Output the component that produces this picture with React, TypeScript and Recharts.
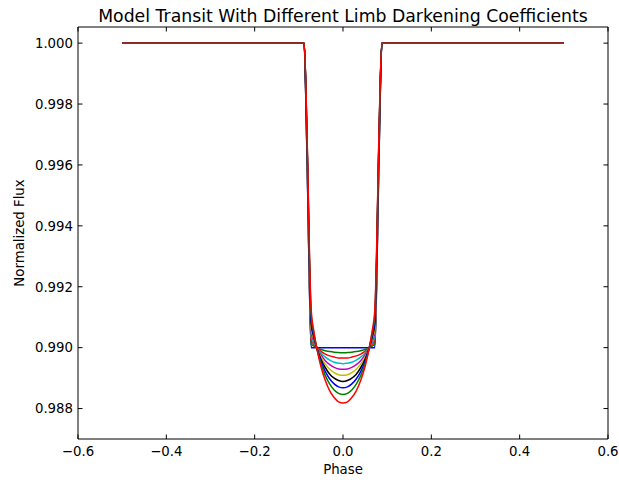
import { LineChart, Line, XAxis, YAxis, ReferenceArea } from "recharts";

// orbital phase samples (shared by every curve)
const PHASE = [
  -0.5, -0.088, -0.084, -0.08, -0.076, -0.072, -0.066, -0.06, -0.05, -0.04, -0.03, -0.02, -0.01,
  0,
  0.01, 0.02, 0.03, 0.04, 0.05, 0.06, 0.066, 0.072, 0.076, 0.08, 0.084, 0.088, 0.5,
];

// normalized flux, one list per limb darkening coefficient (u = 0 ... 0.45)
const FLUX_U000 = [
  1, 1, 0.99805, 0.9951, 0.99196, 0.99, 0.99, 0.99, 0.99, 0.99, 0.99, 0.99, 0.99,
  0.99,
  0.99, 0.99, 0.99, 0.99, 0.99, 0.99, 0.99, 0.99, 0.99196, 0.9951, 0.99805, 1, 1,
];
const FLUX_U005 = [
  1, 1, 0.9981, 0.9952, 0.99207, 0.99012, 0.99005, 0.99, 0.98994, 0.9899, 0.98987, 0.98985, 0.98984,
  0.98983,
  0.98984, 0.98985, 0.98987, 0.9899, 0.98994, 0.99, 0.99005, 0.99012, 0.99207, 0.9952, 0.9981, 1, 1,
];
const FLUX_U010 = [
  1, 1, 0.99815, 0.9953, 0.99218, 0.99024, 0.99011, 0.99001, 0.98988, 0.98979, 0.98973, 0.98969, 0.98966,
  0.98966,
  0.98966, 0.98969, 0.98973, 0.98979, 0.98988, 0.99001, 0.99011, 0.99024, 0.99218, 0.9953, 0.99815, 1, 1,
];
const FLUX_U015 = [
  1, 1, 0.99821, 0.9954, 0.9923, 0.99036, 0.99016, 0.99001, 0.98982, 0.98969, 0.98959, 0.98952, 0.98949,
  0.98947,
  0.98949, 0.98952, 0.98959, 0.98969, 0.98982, 0.99001, 0.99016, 0.99036, 0.9923, 0.9954, 0.99821, 1, 1,
];
const FLUX_U020 = [
  1, 1, 0.99827, 0.99551, 0.99243, 0.9905, 0.99022, 0.99001, 0.98976, 0.98957, 0.98944, 0.98935, 0.9893,
  0.98929,
  0.9893, 0.98935, 0.98944, 0.98957, 0.98976, 0.99001, 0.99022, 0.9905, 0.99243, 0.99551, 0.99827, 1, 1,
];
const FLUX_U025 = [
  1, 1, 0.99833, 0.99562, 0.99256, 0.99063, 0.99028, 0.99001, 0.98969, 0.98946, 0.98929, 0.98918, 0.98911,
  0.98909,
  0.98911, 0.98918, 0.98929, 0.98946, 0.98969, 0.99001, 0.99028, 0.99063, 0.99256, 0.99562, 0.99833, 1, 1,
];
const FLUX_U030 = [
  1, 1, 0.99839, 0.99573, 0.99269, 0.99077, 0.99034, 0.99002, 0.98962, 0.98934, 0.98913, 0.989, 0.98892,
  0.98889,
  0.98892, 0.989, 0.98913, 0.98934, 0.98962, 0.99002, 0.99034, 0.99077, 0.99269, 0.99573, 0.99839, 1, 1,
];
const FLUX_U035 = [
  1, 1, 0.99845, 0.99585, 0.99283, 0.99091, 0.9904, 0.99002, 0.98955, 0.98921, 0.98897, 0.98881, 0.98871,
  0.98868,
  0.98871, 0.98881, 0.98897, 0.98921, 0.98955, 0.99002, 0.9904, 0.99091, 0.99283, 0.99585, 0.99845, 1, 1,
];
const FLUX_U040 = [
  1, 1, 0.99852, 0.99597, 0.99298, 0.99107, 0.99047, 0.99002, 0.98947, 0.98908, 0.9888, 0.98861, 0.9885,
  0.98846,
  0.9885, 0.98861, 0.9888, 0.98908, 0.98947, 0.99002, 0.99047, 0.99107, 0.99298, 0.99597, 0.99852, 1, 1,
];
const FLUX_U045 = [
  1, 1, 0.99859, 0.9961, 0.99313, 0.99122, 0.99054, 0.99003, 0.98938, 0.98892, 0.98858, 0.98836, 0.98822,
  0.98818,
  0.98822, 0.98836, 0.98858, 0.98892, 0.98938, 0.99003, 0.99054, 0.99122, 0.99313, 0.9961, 0.99859, 1, 1,
];

const SERIES = [
  FLUX_U000, FLUX_U005, FLUX_U010, FLUX_U015, FLUX_U020,
  FLUX_U025, FLUX_U030, FLUX_U035, FLUX_U040, FLUX_U045,
];
const COLORS = [
  "#0000ff", "#008000", "#ff0000", "#00bfbf", "#bf00bf",
  "#bfbf00", "#000000", "#0000ff", "#008000", "#ff0000",
];

const X_TICKS = [-0.6, -0.4, -0.2, 0, 0.2, 0.4, 0.6];
const Y_TICKS = [0.988, 0.99, 0.992, 0.994, 0.996, 0.998, 1.0];
const X_DOMAIN = [-0.6, 0.6];
const Y_DOMAIN = [0.987, 1.00053];

const FONT = "DejaVu Sans";
const TICK_LEN = 4.5;
const W = 619;
const H = 480;
const MARGIN = { top: 27, right: 11, bottom: 0, left: 0 };
const PLOT_TOP = MARGIN.top;
const PLOT_RIGHT = W - MARGIN.right;

const rows = PHASE.map((p, i) => {
  const row: Record<string, number> = { phase: p };
  SERIES.forEach((s, j) => (row[`c${j}`] = s[i]));
  return row;
});

const fmtX = (v: number) => (v < 0 ? "\u2212" + Math.abs(v).toFixed(1) : v.toFixed(1));

// bottom tick: label + inward tick, plus the matching tick on the top spine
const BottomTick = (props: any) => {
  const { x, y, payload } = props;
  return (
    <g>
      <line x1={x} y1={y} x2={x} y2={y - TICK_LEN} stroke="#000" />
      <line x1={x} y1={PLOT_TOP} x2={x} y2={PLOT_TOP + TICK_LEN} stroke="#000" />
      <text x={x} y={y + 17} textAnchor="middle" fontSize={13.3} fontFamily={FONT} fill="#000">
        {fmtX(payload.value)}
      </text>
    </g>
  );
};

// left tick: label + inward tick, plus the matching tick on the right spine
const LeftTick = (props: any) => {
  const { x, y, payload } = props;
  return (
    <g>
      <line x1={x} y1={y} x2={x + TICK_LEN} y2={y} stroke="#000" />
      <line x1={PLOT_RIGHT} y1={y} x2={PLOT_RIGHT - TICK_LEN} y2={y} stroke="#000" />
      <text x={x - 5} y={y + 4.8} textAnchor="end" fontSize={13.3} fontFamily={FONT} fill="#000">
        {payload.value.toFixed(3)}
      </text>
    </g>
  );
};

export default function App() {
  return (
    <div
      style={{
        position: "absolute",
        left: 0,
        top: 0,
        width: W,
        height: H,
        background: "#fff",
        fontFamily: FONT,
        color: "#000",
      }}
    >
      <div
        style={{
          position: "absolute",
          left: 43,
          width: 600,
          top: 6,
          textAlign: "center",
          fontSize: 17.3,
          lineHeight: "20px",
          whiteSpace: "nowrap",
        }}
      >
        Model Transit With Different Limb Darkening Coefficients
      </div>
      <div
        style={{
          position: "absolute",
          left: 78,
          width: 530,
          top: 462,
          textAlign: "center",
          fontSize: 13.3,
          lineHeight: "16px",
        }}
      >
        Phase
      </div>
      <div
        style={{
          position: "absolute",
          left: 20,
          top: 233,
          fontSize: 13.3,
          lineHeight: "16px",
          whiteSpace: "nowrap",
          transform: "translate(-50%, -50%) rotate(-90deg)",
        }}
      >
        Normalized Flux
      </div>

      <LineChart
        width={W}
        height={H}
        data={rows}
        margin={MARGIN}
        style={{ position: "absolute", left: 0, top: 0 }}
      >
        <XAxis
          dataKey="phase"
          type="number"
          domain={X_DOMAIN}
          ticks={X_TICKS}
          allowDataOverflow
          height={41}
          tickSize={0}
          tickMargin={0}
          tickLine={false}
          axisLine={false}
          tick={<BottomTick />}
          interval={0}
        />
        <YAxis
          type="number"
          domain={Y_DOMAIN}
          ticks={Y_TICKS}
          allowDataOverflow
          width={78}
          tickSize={0}
          tickMargin={0}
          tickLine={false}
          axisLine={false}
          tick={<LeftTick />}
          interval={0}
        />
        {SERIES.map((_, j) => (
          <Line
            key={j}
            dataKey={`c${j}`}
            type="monotone"
            stroke={COLORS[j]}
            strokeWidth={1.5}
            dot={false}
            activeDot={false}
            isAnimationActive={false}
          />
        ))}
        <ReferenceArea
          x1={X_DOMAIN[0]}
          x2={X_DOMAIN[1]}
          y1={Y_DOMAIN[0]}
          y2={Y_DOMAIN[1]}
          fill="none"
          fillOpacity={0}
          stroke="#000"
          strokeWidth={1}
          ifOverflow="visible"
        />
      </LineChart>
    </div>
  );
}
